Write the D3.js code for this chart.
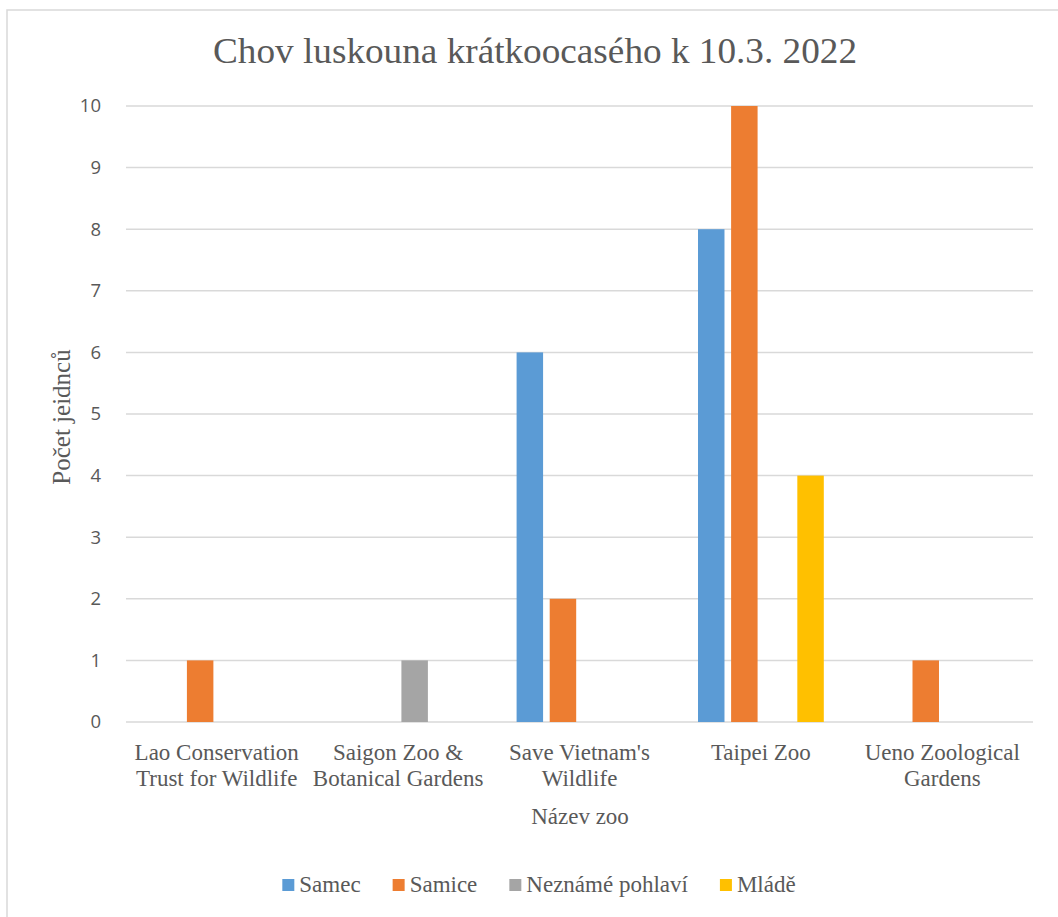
<!DOCTYPE html>
<html>
<head>
<meta charset="utf-8">
<script src="https://cdn.jsdelivr.net/npm/d3@7"></script>
<style>
  body { margin: 0; background: #fff; }
</style>
</head>
<body>
<script>
var zoos = ["Lao Conservation|Trust for Wildlife", "Saigon Zoo &|Botanical Gardens", "Save Vietnam's|Wildlife", "Taipei Zoo", "Ueno Zoological|Gardens"]
var seriesNames = ["Samec", "Samice", "Neznámé pohlaví", "Mládě"]
var samec = [0, 0, 6, 8, 0]
var samice = [1, 0, 2, 10, 1]
var nezname = [0, 1, 0, 0, 0]
var mlade = [0, 0, 0, 4, 0]
var yTicks = [0, 1, 2, 3, 4, 5, 6, 7, 8, 9, 10]
var colors = ["#5b9bd5", "#ed7d31", "#a5a5a5", "#ffc000"]

var allSeries = [samec, samice, nezname, mlade]
var width = 1058, height = 917
var plotLeft = 126, plotRight = 1033, plotTop = 106, plotBottom = 722
var serif = "'Liberation Serif', 'Times New Roman', serif"

var svg = d3.select("body").append("svg")
    .attr("width", width)
    .attr("height", height)

// chart frame (only top and left edge visible)
svg.append("rect")
    .attr("x", 7).attr("y", 10)
    .attr("width", 1070).attr("height", 930)
    .style("fill", "none")
    .style("stroke", "#d9d9d9")
    .style("stroke-width", 1.5)

var x0 = d3.scaleBand().domain(d3.range(zoos.length)).range([plotLeft, plotRight])
    .paddingInner(0.27).paddingOuter(0.135)
var x1 = d3.scaleBand().domain(d3.range(seriesNames.length)).range([0, x0.bandwidth()])
    .paddingInner(0.2).paddingOuter(0.1)
var y = d3.scaleLinear().domain([0, 10]).range([plotBottom, plotTop])

// gridlines
svg.append("g").selectAll("line").data(yTicks).enter().append("line")
    .attr("x1", plotLeft).attr("x2", plotRight)
    .attr("y1", function(d) { return y(d) }).attr("y2", function(d) { return y(d) })
    .style("stroke", "#d9d9d9")
    .style("stroke-width", 1.5)

// y tick labels
svg.append("g").selectAll("text").data(yTicks).enter().append("text")
    .attr("x", 101)
    .attr("y", function(d) { return y(d) })
    .attr("dy", "0.35em")
    .attr("text-anchor", "end")
    .style("font-family", "'Open Sans', sans-serif")
    .style("font-size", "18.5px")
    .style("fill", "#595959")
    .text(function(d) { return d })

// bars
allSeries.forEach(function(vals, s) {
  var g = svg.append("g")
  vals.forEach(function(v, i) {
    if (v <= 0) return
    g.append("rect")
      .attr("x", x0(i) + x1(s))
      .attr("y", y(v))
      .attr("width", x1.bandwidth())
      .attr("height", y(0) - y(v))
      .style("fill", colors[s])
  })
})

// x labels
var xl = svg.append("g").selectAll("text").data(zoos).enter().append("text")
    .attr("x", function(d, i) { return x0(i) + x0.bandwidth() / 2 })
    .attr("y", 760)
    .attr("text-anchor", "middle")
    .style("font-family", serif)
    .style("font-size", "23px")
    .style("fill", "#595959")
xl.each(function(d) {
  var lines = d.split("|")
  var t = d3.select(this)
  var xx = t.attr("x")
  lines.forEach(function(l, k) {
    t.append("tspan").attr("x", xx).attr("dy", k === 0 ? 0 : 26).text(l)
  })
})

// axis titles
svg.append("text")
    .attr("x", 580).attr("y", 824)
    .attr("text-anchor", "middle")
    .style("font-family", serif)
    .style("font-size", "23px")
    .style("fill", "#595959")
    .text("Název zoo")

svg.append("text")
    .attr("transform", "translate(70,417) rotate(-90)")
    .attr("text-anchor", "middle")
    .style("font-family", serif)
    .style("font-size", "25px")
    .style("fill", "#595959")
    .text("Počet jeidnců")

// title
svg.append("text")
    .attr("x", 535).attr("y", 63)
    .attr("text-anchor", "middle")
    .attr("textLength", 644)
    .attr("lengthAdjust", "spacingAndGlyphs")
    .style("font-family", serif)
    .style("font-size", "35px")
    .style("fill", "#595959")
    .text("Chov luskouna krátkoocasého k 10.3. 2022")

// legend
var leg = svg.append("g")
var legX = 0
seriesNames.forEach(function(name, i) {
  var item = leg.append("g").attr("transform", "translate(" + legX + ",0)")
  item.append("rect")
      .attr("x", 0).attr("y", -13)
      .attr("width", 12).attr("height", 12)
      .style("fill", colors[i])
  var t = item.append("text")
      .attr("x", 17).attr("y", 0)
      .style("font-family", serif)
      .style("font-size", "23px")
      .style("fill", "#595959")
      .text(name)
  legX += 17 + t.node().getComputedTextLength() + 32
})
var legW = legX - 32
leg.attr("transform", "translate(" + (539 - legW / 2) + ",892)")
</script>
</body>
</html>
